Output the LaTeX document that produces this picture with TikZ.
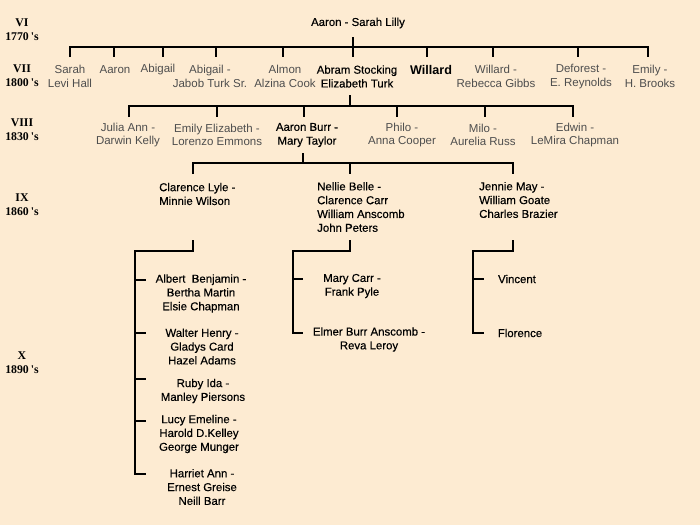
\documentclass[tikz,border=0pt]{standalone}
\usepackage{fontspec}
\setmainfont{Liberation Sans}
\newfontfamily\genfont{Liberation Serif}
\newfontfamily\heavyfont{Liberation Sans}[FakeBold=0.35]
\definecolor{bg}{RGB}{253,235,210}
\definecolor{dim}{RGB}{78,78,78}
\begin{document}
\begin{tikzpicture}[x=1pt,y=-1pt,
  ln/.style={line width=2.7pt, line join=miter, line cap=butt},
  nm/.style={inner sep=0pt, align=center, text=dim, font=\fontsize{11.5}{13.6}\selectfont},
  key/.style={inner sep=0pt, align=center, text=black, font=\fontsize{11.4}{13.8}\selectfont\heavyfont},
  keyl/.style={key, align=left, anchor=west},
  gen/.style={inner sep=0pt, align=center, text=black, font=\fontsize{11.8}{14}\selectfont\genfont\bfseries}]
\fill[bg] (0,0) rectangle (700,525);
\useasboundingbox (0,0) rectangle (700,525);

% generation labels
\node[gen] (g6) at (22,29.5) {VI\\1770\,'s};
\node[gen] (g7) at (22,76) {VII\\1800\,'s};
\node[gen] (g8) at (22,129.5) {VIII\\1830\,'s};
\node[gen] (g9) at (22,205) {IX\\1860\,'s};
\node[gen] (g10) at (22,363) {X\\1890\,'s};

% generation VI
\node[key] (root) at (358,23) {Aaron - Sarah Lilly};

% generation VII
\node[nm] (c1) at (70,76.5) {Sarah\\Levi Hall};
\node[nm] (c2) at (115,70) {Aaron};
\node[nm] (c3) at (158,70) {Abigail};
\node[nm] (c4) at (210,76.5) {Abigail -\\Jabob Turk Sr.};
\node[nm] (c5) at (285,76.5) {Almon\\Alzina Cook};
\node[key] (c6) at (357,76.5) {Abram Stocking\\Elizabeth Turk};
\node[inner sep=0pt, font=\fontsize{12.6}{14}\selectfont\bfseries] (c7) at (431,70) {Willard};
\node[nm] (c8) at (496,76.5) {Willard -\\Rebecca Gibbs};
\node[nm] (c9) at (581,76.5) {Deforest -\\E. Reynolds};
\node[nm] (c10) at (650,76.5) {Emily -\\H. Brooks};

% generation VIII
\node[nm] (d1) at (128,135) {Julia Ann -\\Darwin Kelly};
\node[nm] (d2) at (217,135) {Emily Elizabeth -\\Lorenzo Emmons};
\node[key] (d3) at (307,135) {Aaron Burr -\\Mary Taylor};
\node[nm] (d4) at (402,135) {Philo -\\Anna Cooper};
\node[nm] (d5) at (483,135) {Milo -\\Aurelia Russ};
\node[nm] (d6) at (575,135) {Edwin -\\LeMira Chapman};

% generation IX
\node[keyl] (e1) at (159,194) {Clarence Lyle -\\Minnie Wilson};
\node[keyl] (e2) at (317,207) {Nellie Belle -\\Clarence Carr\\William Anscomb\\John Peters};
\node[keyl] (e3) at (479,200) {Jennie May -\\William Goate\\Charles Brazier};

% generation X
\node[key] (f1) at (201,293.5) {Albert\ \ Benjamin -\\Bertha Martin\\Elsie Chapman};
\node[key] (f2) at (202,346.5) {Walter Henry -\\Gladys Card\\Hazel Adams};
\node[key] (f3) at (203,391) {Ruby Ida -\\Manley Piersons};
\node[key] (f4) at (199,434) {Lucy Emeline -\\Harold D.Kelley\\George Munger};
\node[key] (f5) at (202,487) {Harriet Ann -\\Ernest Greise\\Neill Barr};
\node[key] (f6) at (352,286) {Mary Carr -\\Frank Pyle};
\node[key] (f7) at (369,339.5) {Elmer Burr Anscomb -\\Reva Leroy};
\node[key] (f8) at (517,279) {Vincent};
\node[key] (f9) at (520,333) {Florence};

% ---- connectors ----
% VI -> VII
\coordinate (rootT) at (353,37);
\coordinate (rootB) at (353,57);
\draw[ln] (rootT) -- (rootB);
\draw[ln] (70,57) -- (70,47) -- (648,47) -- (648,57);
\foreach \x in {114,163,216,283,427,493,578}
  \draw[ln] (\x,47) -- (\x,57);

% VII -> VIII
\coordinate (abT) at (350,95);
\coordinate (abB) at (350,106);
\draw[ln] (abT) -- (abB);
\draw[ln] (129,117) -- (129,106) -- (573,106) -- (573,117);
\foreach \x in {217,304,397,485}
  \draw[ln] (\x,106) -- (\x,117);

% VIII -> IX
\coordinate (abrT) at (303,153);
\coordinate (abrB) at (303,163);
\draw[ln] (abrT) -- (abrB);
\draw[ln] (193,174) -- (193,163) -- (513,163) -- (513,174);
\draw[ln] (350,163) -- (350,174);

% IX -> X : Clarence
\draw[ln] (193,240) -- (193,251) -- (135,251) -- (135,474) -- (146,474);
\foreach \y in {280,333,379,421}
  \draw[ln] (135,\y) -- (146,\y);
% Nellie
\draw[ln] (350,240) -- (350,251) -- (293,251) -- (293,333) -- (303,333);
\draw[ln] (293,279) -- (303,279);
% Jennie
\draw[ln] (513,240) -- (513,251) -- (473,251) -- (473,333) -- (484,333);
\draw[ln] (473,279) -- (484,279);
\end{tikzpicture}
\end{document}
